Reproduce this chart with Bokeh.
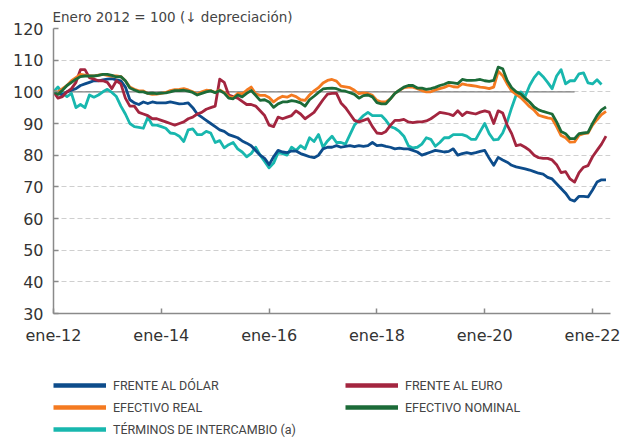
import numpy as np
from bokeh.plotting import figure
from bokeh.layouts import column
from bokeh.models import Range1d, FixedTicker, Legend, LegendItem
from bokeh.embed import file_html
from bokeh.resources import INLINE

# ---------------- data (monthly, Jan 2012 = 100) ----------------
tick_months = [0, 24, 48, 72, 96, 120]
tick_labels = ["ene-12", "ene-14", "ene-16", "ene-18", "ene-20", "ene-22"]
y_ticks = [30, 40, 50, 60, 70, 80, 90, 100, 110, 120]
ref_value = 100
ref_end_month = 116

frente_dolar = [
    100, 99.5, 99, 100, 100.5, 101, 102, 102.5, 103, 103.5, 103.5, 103.8,
    104, 104.2, 103.8, 103.5, 101.5, 97.5, 96.5, 96, 96.8, 96.3, 96.8, 96.5,
    96.5, 96.5, 96.8, 96.5, 96.2, 96.3, 96.5, 95, 93, 92, 91, 90,
    89, 88, 87.5, 86.5, 86, 85.5, 84.5, 83.8, 83, 81.5, 80, 79,
    77, 79.5, 81.5, 81, 80.8, 81.3, 81.3, 80.5, 80, 79.5, 79.2, 80,
    82, 82.5, 82.5, 83, 82.5, 82.8, 83, 82.7, 83, 82.8, 83, 84,
    83, 83.2, 82.8, 82.5, 82, 82.2, 82, 82, 81.5, 81, 80, 80.5,
    81, 81.5, 81.3, 81, 81.2, 82, 80, 80.5, 80.8, 80.5, 80.8, 81.2,
    81.5, 79, 76.8, 79.3, 78.5, 77.8, 76.8, 76.3, 76, 75.7, 75.3, 74.8,
    74.3, 74, 73, 72.5, 71, 69.5, 68, 66, 65.5, 67, 67, 66.8,
    69, 71.5, 72.2, 72.2,
]
frente_euro = [
    100, 98, 98.5, 100, 101, 103, 107, 107, 104.5, 104, 103.5, 103.5,
    103, 101, 103.5, 102.5, 98, 95.5, 95.5, 93.5, 93, 92.5, 91.5, 91.5,
    91, 90.5, 90, 89.5, 90, 90.5, 91.5, 92, 93, 93.5, 94.5, 95,
    95.5, 104, 103, 99, 98.5, 98, 97, 96, 96, 95.5, 94, 92.5,
    89.5, 89, 92, 91.5, 92, 92.5, 94, 93, 91.5, 92.5, 93.5, 95.5,
    97.5, 99.3, 99.5, 99.5, 96.5, 95, 93, 91, 90.5, 91, 91.5, 89,
    87, 86.8, 87.5, 89.4, 91, 91, 91.3, 90.5, 90.3, 90.5, 90.5, 90.8,
    91.5, 92.5, 93.5, 93.3, 93, 92.5, 94, 92.5, 93.6, 93.3, 93, 93.6,
    94, 93.6, 90, 94, 93.3, 89.5, 86.8, 83, 83.3, 82.5, 81.5, 80,
    79.2, 79, 79, 78.5, 77, 74.5, 74.8, 72.5, 71.5, 74.5, 76.2, 76.7,
    79.5, 81.5, 83.5, 86,
]
efectivo_real = [
    100, 100, 101, 102, 103.5, 104.5, 105.5, 105.3, 105, 105, 105.3, 105.5,
    105.2, 105, 105, 104.8, 103.5, 101.5, 100.8, 100.3, 100.3, 99.5, 99.2, 99.3,
    99.5, 99.8, 100.4, 100.7, 100.8, 101, 100.6, 100, 99.3, 100, 100.5, 100.4,
    99.8, 100.6, 99.8, 98.5, 98.2, 99.5, 99.4, 100.5, 101.5, 99.4, 98.9, 98.9,
    98.2, 96.8, 97.9, 98.6, 98.3, 99, 98.5, 97.5, 97.3, 99, 100.3, 101.3,
    102.8, 103.6, 103.9, 103.4, 101.8, 101.6, 101.3, 100.5, 99.4, 99.7, 99.5, 98.9,
    97.3, 96.8, 96.8, 97.8, 99.5, 100.5, 101.3, 101.5, 101.5, 101, 100.4, 100,
    100, 100.6, 101, 101.4, 102, 101.6, 101.5, 102.5, 102.2, 102, 101.8, 101.5,
    101.3, 101, 101.5, 106.5, 105.1, 102.5, 100.3, 99.2, 98.2, 96.8, 95.3, 94.2,
    92.6, 92.2, 91.8, 91.5, 89, 86.2, 85.5, 84.1, 84.2, 86.3, 86.8, 87,
    89.5, 91.2, 92.8, 93.8,
]
efectivo_nominal = [
    100, 99.2, 100.5, 102, 103, 104, 104.8, 105, 105, 105, 105.2, 105.5,
    105.5, 105.2, 104.7, 104.8, 103.5, 101.2, 100.6, 100, 100, 99.5, 99.6, 99.4,
    99.6, 99.7, 100, 100.4, 100.4, 100.5, 100.2, 99.8, 99, 99.5, 100, 100.3,
    99.7, 100.4, 99.6, 98, 97.8, 99, 98.4, 99.5, 100.4, 98.9, 97.3, 97.5,
    96.8, 95.1, 96.2, 96.8, 96.8, 97.2, 97, 96.5, 95.5, 97.5, 98.6, 99.8,
    100.9, 101.1, 101.2, 101, 100.4, 100.2, 99.7, 99.2, 98, 98.8, 99, 98.4,
    96.6, 96.2, 96.2, 97.8, 99.5, 100.5, 101.5, 102, 102, 101.2, 101.2, 100.8,
    101, 101.4, 102, 102.4, 103, 102.8, 102.6, 103.9, 103.6, 103.6, 103.7, 103.9,
    103.5, 103.3, 103.6, 107.8, 107.3, 103.6, 101.3, 100, 99.3, 98, 96.8, 95.2,
    94.3, 93.8, 93.4, 93, 90.5, 87.5, 86.8, 85.2, 85.2, 86.8, 87, 87.2,
    90, 92.5, 94.3, 95.2,
]
terminos_intercambio = [
    100, 101.5, 99.5, 98.5, 99.5, 95, 96, 95, 99, 98.3, 99, 100,
    100.8, 99.8, 98.5, 95.5, 93, 90, 89, 88.8, 88.5, 92, 89.5, 89.5,
    89, 88.5, 87, 86.8, 86, 84.3, 88, 88.3, 86.5, 86.5, 87.5, 87,
    84, 84.6, 82.3, 83.3, 84, 82, 81, 79.5, 80.5, 82.5, 80, 78,
    76, 77.5, 80.8, 80.5, 80, 82.5, 81.5, 83, 82, 85.5, 84.3, 86.5,
    82.5, 84.5, 86, 84, 84, 83.5, 86.5, 89.5, 91, 92.5, 93.5, 92.5,
    92.5, 92.5, 91, 89, 88.5, 87.5, 86, 83, 82.3, 82.5, 83.5, 85.5,
    85, 82.8, 84, 85.5, 85.5, 86.5, 86.5, 86.5, 86, 85, 85, 87.5,
    90, 86.8, 84.8, 85, 87, 90.5, 95, 99, 100, 98.5, 102, 104.5,
    106.2, 104.8, 103, 101, 105, 107, 102.5, 103.5, 103.5, 105.7, 106, 102.8,
    102.5, 103.8, 102.3,
]

series_names = ["FRENTE AL DÓLAR", "FRENTE AL EURO", "EFECTIVO REAL",
                "EFECTIVO NOMINAL", "TÉRMINOS DE INTERCAMBIO (a)"]
colors = {
    "FRENTE AL DÓLAR": "#0d4c8b",
    "FRENTE AL EURO": "#a3253f",
    "EFECTIVO REAL": "#f47a20",
    "EFECTIVO NOMINAL": "#1c6b38",
    "TÉRMINOS DE INTERCAMBIO (a)": "#18b7ae",
}
values = {
    "FRENTE AL DÓLAR": frente_dolar,
    "FRENTE AL EURO": frente_euro,
    "EFECTIVO REAL": efectivo_real,
    "EFECTIVO NOMINAL": efectivo_nominal,
    "TÉRMINOS DE INTERCAMBIO (a)": terminos_intercambio,
}

# ---------------- main figure ----------------
TICK_FONT = "DejaVu Sans"
W = 621
H_MAIN = 350
H_LEG = 89

p = figure(width=W, height=H_MAIN, output_backend="svg", toolbar_location=None,
           x_range=Range1d(0, 124), y_range=Range1d(30, 120),
           min_border_left=53, min_border_right=11, min_border_top=28,
           min_border_bottom=37, outline_line_color=None,
           title="Enero 2012 = 100 (\u2193 depreciación)")
p.title.align = "left"
p.title.vertical_align = "top"
p.title.text_font = TICK_FONT
p.title.text_font_size = "13.5px"
p.title.text_font_style = "normal"
p.title.text_color = "#444444"
p.title.standoff = 4
p.title.offset = -1

p.xgrid.visible = False
p.ygrid.ticker = FixedTicker(ticks=y_ticks)
p.ygrid.grid_line_color = "#cfcfcf"
p.ygrid.grid_line_dash = "5 3"
p.ygrid.grid_line_width = 1

for ax in (p.xaxis[0], p.yaxis[0]):
    ax.axis_line_color = "#8a8a8a"
    ax.axis_line_width = 1.5
    ax.major_tick_in = 5
    ax.major_tick_out = 0
    ax.major_tick_line_color = "#8a8a8a"
    ax.major_tick_line_width = 1.5
    ax.minor_tick_line_color = None
    ax.major_label_text_font = TICK_FONT
    ax.major_label_text_font_size = "16px"
    ax.major_label_text_color = "#333333"

p.xaxis.ticker = FixedTicker(ticks=tick_months)
p.xaxis.major_label_overrides = {m: lab for m, lab in zip(tick_months, tick_labels)}
p.xaxis.major_label_standoff = 12
p.yaxis.ticker = FixedTicker(ticks=y_ticks)
p.yaxis.major_label_standoff = 10

# reference line at 100
p.line([0, ref_end_month], [ref_value, ref_value], line_color="#7f7f7f", line_width=1.2)

draw_order = ["TÉRMINOS DE INTERCAMBIO (a)", "FRENTE AL DÓLAR", "FRENTE AL EURO",
              "EFECTIVO REAL", "EFECTIVO NOMINAL"]
for name in draw_order:
    ys = values[name]
    xs = np.arange(len(ys))
    p.line(xs, ys, line_color=colors[name], line_width=2.8, line_join="round")

# ---------------- legend figure ----------------
lf = figure(width=W, height=H_LEG, output_backend="svg", toolbar_location=None,
            x_axis_type=None, y_axis_type=None, x_range=Range1d(0, 1), y_range=Range1d(0, 1),
            min_border=0, outline_line_color=None)
lf.xgrid.visible = False
lf.ygrid.visible = False

# legend-only renderers: their points lie outside the visible range
dummies = {}
for name in series_names:
    dummies[name] = lf.line(x=[-5, -5], y=[-5, -5], line_color=colors[name], line_width=4.5)

def make_legend(names, loc):
    return Legend(
        items=[LegendItem(label=n, renderers=[dummies[n]]) for n in names],
        location=loc, orientation="vertical",
        glyph_width=53, glyph_height=20, label_height=20, label_standoff=7,
        spacing=2, padding=0, margin=0,
        border_line_color=None, background_fill_alpha=0,
        label_text_font="Roboto", label_text_font_size="12.5px",
        label_text_color="#444444",
    )

# the legend figure's frame is aligned with the main frame (left edge at 53 px)
lf.add_layout(make_legend(["FRENTE AL DÓLAR", "EFECTIVO REAL", "TÉRMINOS DE INTERCAMBIO (a)"], (0, 0)))
lf.add_layout(make_legend(["FRENTE AL EURO", "EFECTIVO NOMINAL"], (292, 22)))

layout = column(p, lf, spacing=0)
open("out.html", "w").write(file_html(layout, INLINE))
